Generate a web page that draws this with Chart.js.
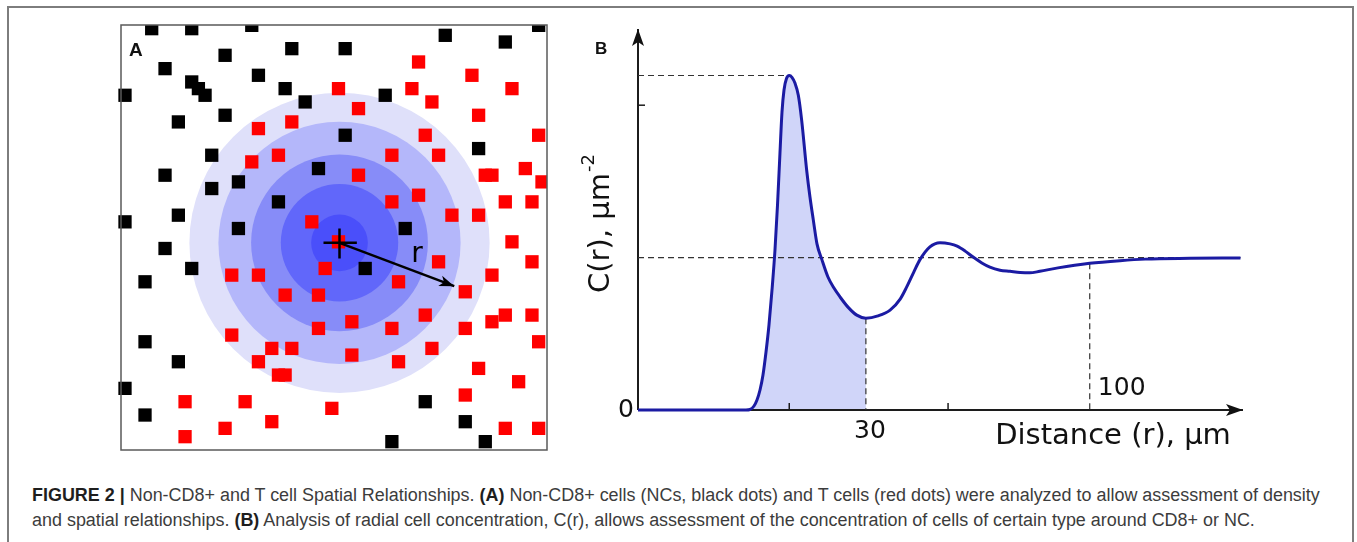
<!DOCTYPE html>
<html lang="en">
<head>
<meta charset="UTF-8">
<title>Figure 2</title>
<script src="https://cdn.jsdelivr.net/npm/chart.js"></script>
<style>
  body { margin: 0; background: #fff; width: 1357px; height: 542px; position: relative; overflow: hidden; }
  #frame { position: absolute; left: 7px; top: 6px; width: 1343px; height: 560px; border: 2px solid #7d7d7d; border-bottom: none; }
  canvas { position: absolute; }
  #chartA { left: 100px; top: 10px; }
  #chartB { left: 560px; top: 10px; }
  .panel { position: absolute; font-family: "Liberation Sans", Arial, sans-serif; font-weight: bold; line-height: 20px; color: #111; }
  #caption { position: absolute; left: 32px; top: 483px; font-family: "Liberation Sans", Arial, sans-serif; font-size: 16.5px; line-height: 25px; color: #3c3c3c; white-space: nowrap; }
  #caption b { color: #1e1e1e; }
</style>
</head>
<body>
<div id="frame"></div>
<canvas id="chartA" width="470" height="460"></canvas>
<canvas id="chartB" width="720" height="460"></canvas>
<div class="panel" style="left:129px; top:40px; font-size:19px;">A</div>
<div class="panel" style="left:595px; top:39px; font-size:17px;">B</div>
<div id="caption"><span id="cap1"><b>FIGURE 2 |</b> Non-CD8+ and T cell Spatial Relationships. <b>(A)</b> Non-CD8+ cells (NCs, black dots) and T cells (red dots) were analyzed to allow assessment of density</span><br><span>and spatial relationships. <b>(B)</b> Analysis of radial cell concentration, C(r), allows assessment of the concentration of cells of certain type around CD8+ or NC.</span></div>

<script>
    Chart.defaults.font.family = "'DejaVu Sans', sans-serif";

    // ---- panel A : cell positions (grid units, y counted from the top)
    const ncCells = [
        [4,0],[10,0],[19,-0.5],[62,-0.5],[48,1],[57,2],[25,3],[33,3],[15,4],[6,6],[20,7],[10,8],
        [11,9],[24,9],[0,10],[12,10],[39,10],[27,11],[15,13],[8,14],[33,16],[53,18],[13,19],[29,21],
        [6,22],[17,23],[13,24],[23,26],[8,28],[0,29],[17,30],[42,30],[6,33],[10,36],[36,36],[3,38],
        [3,47],[8,50],[0,54],[45,56],[3,58],[51,59],[40,62],[54,62]
    ];
    const tCells = [
        [44,5],[52,7],[32,9],[43,9],[58,9],[46,11],[35,12],[53,13],[25,14],[20,15],[45,16],[62,16],
        [23,19],[40,19],[47,19],[19,20],[60,21],[35,22],[54,22],[55,22],[62.5,23],[44,25],[40,26],
        [57,26],[61,26],[49,28],[53,28],[28,29],[32,32],[58,32],[47,35],[61,35],[30,36],[16,37],
        [20,37],[55,37],[41,38],[51,39.5],[24,40],[29,40],[45,43],[57,43],[61,43],[55,44],[34,44],
        [29,45],[40,45],[51,45],[16,46],[62,47],[22,48],[25,48],[46,48],[34,49],[20,50],[41,50],
        [53,51],[23,52],[24,52],[59,53],[51,55],[9,56],[18,56],[31,57],[22,59],[15,60],[57,60],
        [62,60],[9,61.25]
    ];
    const centre = [32.15, 32.15];
    const ringRadii = [22.5, 18.15, 13.25, 8.8, 4.25];
    const arrowTip = [49.35, 38.65];
    const ringColors = ['#dfe0fa', '#b4b7fa', '#878cf8', '#6167fa', '#4a4ffa'];

    const toPts = arr => arr.map(p => ({x: p[0], y: p[1]}));

    const ringsPlugin = {
        id: 'rings',
        beforeDatasetsDraw(chart) {
            const {ctx, scales: {x, y}} = chart;
            const cx = x.getPixelForValue(centre[0]);
            const cy = y.getPixelForValue(centre[1]);
            ctx.save();
            ringRadii.forEach((r, i) => {
                const pr = Math.abs(x.getPixelForValue(centre[0] + r) - cx);
                ctx.beginPath();
                ctx.arc(cx, cy, pr, 0, Math.PI * 2);
                ctx.fillStyle = ringColors[i];
                ctx.fill();
            });
            ctx.restore();
        },
        afterDatasetsDraw(chart) {
            const {ctx, chartArea: a, scales: {x, y}} = chart;
            ctx.save();
            // arrow head
            const x0 = x.getPixelForValue(centre[0]), y0 = y.getPixelForValue(centre[1]);
            const x1 = x.getPixelForValue(arrowTip[0]), y1 = y.getPixelForValue(arrowTip[1]);
            const ang = Math.atan2(y1 - y0, x1 - x0);
            ctx.translate(x1, y1);
            ctx.rotate(ang);
            ctx.beginPath();
            ctx.moveTo(0, 0);
            ctx.lineTo(-15, -5.5);
            ctx.lineTo(-11, 0);
            ctx.lineTo(-15, 5.5);
            ctx.closePath();
            ctx.fillStyle = '#000';
            ctx.fill();
            ctx.setTransform(1, 0, 0, 1, 0, 0);
            // r label
            ctx.font = "28px 'DejaVu Sans'";
            ctx.textAlign = 'center';
            ctx.textBaseline = 'middle';
            ctx.fillText('r', x.getPixelForValue(43.75), y.getPixelForValue(34));
            // box
            ctx.strokeStyle = '#5a5a5a';
            ctx.lineWidth = 1.5;
            ctx.strokeRect(a.left, a.top, a.right - a.left, a.bottom - a.top);
            ctx.restore();
        }
    };

    const lineA = (pts) => ({
        data: toPts(pts), showLine: true, borderColor: '#000', borderWidth: 2.5,
        pointRadius: 0, clip: false, order: 0
    });

    new Chart(document.getElementById('chartA'), {
        type: 'scatter',
        data: {
            datasets: [
                lineA([[29.75, centre[1]], [34.75, centre[1]]]),
                lineA([[centre[0], 30], [centre[0], 34.5]]),
                lineA([centre, arrowTip]),
                { label: 'NC', data: toPts(ncCells), pointStyle: 'rect', pointRadius: 9.4, pointBorderWidth: 0,
                  backgroundColor: '#000', clip: {left: 5, top: 0, right: 0, bottom: 0}, order: 2 },
                { label: 'T', data: toPts(tCells), pointStyle: 'rect', pointRadius: 9.4, pointBorderWidth: 0,
                  backgroundColor: '#ff0000', clip: {left: 5, top: 0, right: 0, bottom: 0}, order: 2 }
            ]
        },
        options: {
            responsive: false, animation: false, events: [],
            layout: { padding: { left: 21, top: 15, right: 23, bottom: 20 } },
            scales: {
                x: { type: 'linear', min: -0.6, max: 63.25, display: false },
                y: { type: 'linear', min: -0.55, max: 63.25, reverse: true, display: false }
            },
            plugins: { legend: { display: false }, tooltip: { enabled: false } }
        },
        plugins: [ringsPlugin]
    });

    // ---- panel B : radial concentration C(r)
    const distR = [0, 21.42, 22.21, 23.01, 23.60, 24.20, 24.79, 25.39, 25.98, 26.58, 27.17, 27.67, 28.16,
        28.56, 28.96, 29.45, 30.01, 30.54, 31.13, 31.8, 32.46, 33.45, 34.11, 34.77, 35.50, 36.49, 37.68,
        38.87, 40.06, 41.65, 43.40, 45.20, 47.6, 50.0, 52.0, 53.3, 54.7, 55.9, 57.9, 59.9, 61.9, 63.3,
        64.9, 66.4, 68.2, 69.8, 71.8, 73.8, 75.8, 77.7, 79.7, 83.3, 89.6, 95.6, 100.6, 109.5, 119.5];
    const concC = [0, 0, 0.13, 1.05, 2.62, 5.25, 9.19, 15.22, 22.31, 31.50, 42.0, 53.81, 67.45,
        78.2, 84.0, 87.0, 87.8, 87.3, 85.8, 82.6, 76.1, 63.0, 55.9, 49.9, 43.6, 39.4, 34.9,
        32.0, 29.7, 27.0, 24.9, 24.1, 24.7, 26.2, 29.1, 32.3, 36.2, 39.4, 42.8, 43.9, 43.6, 43.0,
        41.7, 40.2, 38.6, 37.5, 36.7, 36.4, 36.1, 36.0, 36.4, 37.3, 38.5, 39.2, 39.6, 39.8, 39.9];
    const peakPt = [30.01, 87.8];
    const minPt = [45.2, 24.1];
    const mark100 = [89.6, 38.5];
    const asymptote = 40;
    const yTicks = [80];
    const xTicks = [30, 61.5];
    const xLabels = ['30', '100'];

    const curve = distR.map((r, i) => ({x: r, y: concC[i]}));
    const shaded = curve.filter(p => p.x <= minPt[0]);

    const dashed = (pts) => ({
        data: toPts(pts), showLine: true, borderColor: '#333', borderWidth: 1.2, borderDash: [6, 4],
        pointRadius: 0, clip: false, order: 2
    });
    const axisLine = (pts) => ({
        data: toPts(pts), showLine: true, borderColor: '#1c1c1c', borderWidth: 2,
        pointRadius: 0, clip: false, order: 3
    });

    const decoPlugin = {
        id: 'deco',
        afterDatasetsDraw(chart) {
            const {ctx, scales: {x, y}} = chart;
            const x0 = x.getPixelForValue(0), y0 = y.getPixelForValue(0);
            const xEnd = x.getPixelForValue(x.max), yTop = y.getPixelForValue(y.max);
            ctx.save();
            ctx.fillStyle = '#111';
            // arrow heads
            ctx.beginPath();
            ctx.moveTo(x0, yTop); ctx.lineTo(x0 - 6, yTop + 17); ctx.lineTo(x0, yTop + 13); ctx.lineTo(x0 + 6, yTop + 17);
            ctx.closePath(); ctx.fill();
            ctx.beginPath();
            ctx.moveTo(xEnd, y0); ctx.lineTo(xEnd - 17, y0 - 6); ctx.lineTo(xEnd - 13, y0); ctx.lineTo(xEnd - 17, y0 + 6);
            ctx.closePath(); ctx.fill();
            // tick marks
            ctx.strokeStyle = '#1c1c1c';
            ctx.lineWidth = 1.5;
            yTicks.forEach(v => {
                const py = y.getPixelForValue(v);
                ctx.beginPath(); ctx.moveTo(x0, py); ctx.lineTo(x0 + 7, py); ctx.stroke();
            });
            xTicks.forEach(v => {
                const px = x.getPixelForValue(v);
                ctx.beginPath(); ctx.moveTo(px, y0); ctx.lineTo(px, y0 - 7); ctx.stroke();
            });
            // labels
            ctx.fillStyle = '#111';
            ctx.textAlign = 'center';
            ctx.textBaseline = 'middle';
            ctx.font = "25px 'DejaVu Sans'";
            ctx.fillText('0', x0 - 12, y0);
            ctx.fillText(xLabels[0], x.getPixelForValue(minPt[0]) + 4, y0 + 21);
            ctx.fillText(xLabels[1], x.getPixelForValue(mark100[0]) + 32, y0 - 22);
            ctx.font = "29px 'DejaVu Sans'";
            ctx.fillText('Distance (r), µm', xEnd - 130, y0 + 26);
            // y title with superscript
            ctx.translate(x0 - 37, 214);
            ctx.rotate(-Math.PI / 2);
            ctx.textAlign = 'left';
            ctx.font = "29px 'DejaVu Sans'";
            const main = 'C(r), µm';
            const w1 = ctx.measureText(main).width;
            ctx.font = "18px 'DejaVu Sans'";
            const w2 = ctx.measureText('-2').width;
            const start = -(w1 + w2) / 2;
            ctx.font = "29px 'DejaVu Sans'";
            ctx.fillText(main, start, 0);
            ctx.font = "18px 'DejaVu Sans'";
            ctx.fillText('-2', start + w1 + 1, -12);
            ctx.restore();
        }
    };

    new Chart(document.getElementById('chartB'), {
        type: 'scatter',
        data: {
            datasets: [
                { label: 'C(r)', data: curve, showLine: true, borderColor: '#1b1ba3', borderWidth: 3,
                  cubicInterpolationMode: 'monotone', pointRadius: 0, clip: false, order: 0 },
                { label: 'shaded', data: shaded, showLine: true, borderWidth: 0, borderColor: 'rgba(0,0,0,0)',
                  backgroundColor: '#d0d5f9', fill: 'origin', cubicInterpolationMode: 'monotone',
                  pointRadius: 0, clip: false, order: 4 },
                dashed([[0, peakPt[1]], peakPt]),
                dashed([[0, asymptote], [distR[distR.length - 1], asymptote]]),
                dashed([minPt, [minPt[0], 0]]),
                dashed([mark100, [mark100[0], 0]]),
                axisLine([[0, 0], [120, 0]]),
                axisLine([[0, 0], [0, 100]])
            ]
        },
        options: {
            responsive: false, animation: false, events: [],
            layout: { padding: { left: 78, top: 19, right: 37, bottom: 60 } },
            scales: {
                x: { type: 'linear', min: 0, max: 120, display: false },
                y: { type: 'linear', min: 0, max: 100, display: false }
            },
            plugins: { legend: { display: false }, tooltip: { enabled: false } }
        },
        plugins: [decoPlugin]
    });

    // stretch caption so the first line spans the same width as the figure
    const cap = document.getElementById('caption');
    const w = document.getElementById('cap1').getBoundingClientRect().width;
    cap.style.fontSize = (16.5 * 1288 / w).toFixed(2) + 'px';
</script>
</body>
</html>
